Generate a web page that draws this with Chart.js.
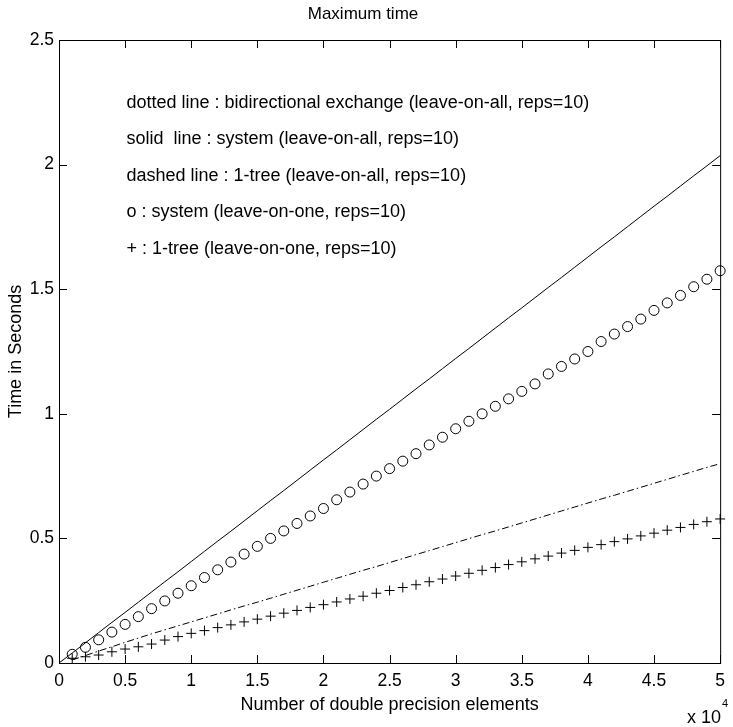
<!DOCTYPE html>
<html>
<head>
<meta charset="utf-8">
<script src="https://cdn.jsdelivr.net/npm/chart.js@4.4.1/dist/chart.umd.min.js"></script>
<style>
  html, body { margin: 0; padding: 0; background: #fff; }
  #wrap { width: 733px; height: 727px; }
</style>
</head>
<body>
<div id="wrap"><canvas id="myChart" width="733" height="727"></canvas></div>
<script>
// problem sizes (number of double precision elements)
const sizes = [1000, 2000, 3000, 4000, 5000, 6000, 7000, 8000, 9000, 10000,
  11000, 12000, 13000, 14000, 15000, 16000, 17000, 18000, 19000, 20000,
  21000, 22000, 23000, 24000, 25000, 26000, 27000, 28000, 29000, 30000,
  31000, 32000, 33000, 34000, 35000, 36000, 37000, 38000, 39000, 40000,
  41000, 42000, 43000, 44000, 45000, 46000, 47000, 48000, 49000, 50000];
const solidSizes = [0].concat(sizes);

// solid line : system (leave-on-all)
const systemAll = [0, 0.04, 0.081, 0.122, 0.163, 0.203, 0.244, 0.285, 0.326, 0.366, 0.407,
  0.448, 0.489, 0.529, 0.57, 0.611, 0.652, 0.692, 0.733, 0.774, 0.815,
  0.855, 0.896, 0.937, 0.978, 1.018, 1.059, 1.1, 1.14, 1.181, 1.222,
  1.262, 1.303, 1.344, 1.385, 1.425, 1.466, 1.507, 1.547, 1.588, 1.629,
  1.67, 1.71, 1.751, 1.792, 1.833, 1.873, 1.914, 1.955, 1.995, 2.036];

// dashed line : 1-tree (leave-on-all)
const treeAll = [0.012, 0.03, 0.048, 0.065, 0.083, 0.1, 0.117, 0.133, 0.149, 0.165,
  0.181, 0.197, 0.213, 0.229, 0.244, 0.26, 0.276, 0.292, 0.308, 0.324,
  0.34, 0.356, 0.372, 0.387, 0.403, 0.419, 0.435, 0.451, 0.467, 0.483,
  0.499, 0.515, 0.53, 0.546, 0.562, 0.578, 0.594, 0.61, 0.626, 0.642,
  0.658, 0.673, 0.689, 0.705, 0.721, 0.737, 0.753, 0.769, 0.785, 0.8];

// o : system (leave-on-one)
const systemOne = [0.035, 0.063, 0.093, 0.124, 0.155, 0.186, 0.218, 0.249, 0.28, 0.31,
  0.343, 0.374, 0.405, 0.437, 0.468, 0.5, 0.53, 0.56, 0.59, 0.62,
  0.655, 0.686, 0.718, 0.75, 0.78, 0.81, 0.84, 0.875, 0.906, 0.94,
  0.97, 1.0, 1.03, 1.06, 1.09, 1.12, 1.16, 1.19, 1.22, 1.25,
  1.29, 1.32, 1.35, 1.38, 1.415, 1.445, 1.475, 1.51, 1.54, 1.574];

// + : 1-tree (leave-on-one)
const treeOne = [0.019, 0.025, 0.032, 0.045, 0.056, 0.065, 0.076, 0.092, 0.106, 0.119,
  0.13, 0.142, 0.153, 0.165, 0.176, 0.188, 0.2, 0.211, 0.223, 0.234,
  0.245, 0.257, 0.268, 0.28, 0.291, 0.303, 0.314, 0.326, 0.337, 0.349,
  0.36, 0.372, 0.383, 0.395, 0.406, 0.418, 0.429, 0.441, 0.452, 0.464,
  0.475, 0.487, 0.498, 0.51, 0.521, 0.533, 0.544, 0.556, 0.567, 0.578];

const notes = [
  "dotted line : bidirectional exchange (leave-on-all, reps=10)",
  "solid  line : system (leave-on-all, reps=10)",
  "dashed line : 1-tree (leave-on-all, reps=10)",
  "o : system (leave-on-one, reps=10)",
  "+ : 1-tree (leave-on-one, reps=10)"
];

function pts(xs, ys) {
  return xs.map((v, i) => ({ x: v, y: ys[i] }));
}

const FONT = '"Liberation Sans", Arial, Helvetica, sans-serif';

// box, inward ticks, notes and exponent label
const frame = {
  id: "frame",
  afterDatasetsDraw(chart) {
    const { ctx, chartArea: a, scales: { x, y } } = chart;
    ctx.save();
    ctx.strokeStyle = "#000";
    ctx.lineWidth = 1;
    ctx.strokeRect(a.left + 0.5, a.top + 0.5, a.right - a.left, a.bottom - a.top);
    ctx.beginPath();
    x.ticks.forEach(t => {
      const px = Math.round(x.getPixelForValue(t.value)) + 0.5;
      ctx.moveTo(px, a.bottom); ctx.lineTo(px, a.bottom - 8);
      ctx.moveTo(px, a.top); ctx.lineTo(px, a.top + 8);
    });
    y.ticks.forEach(t => {
      const py = Math.round(y.getPixelForValue(t.value)) + 0.5;
      ctx.moveTo(a.left, py); ctx.lineTo(a.left + 8, py);
      ctx.moveTo(a.right, py); ctx.lineTo(a.right - 8, py);
    });
    ctx.stroke();

    ctx.fillStyle = "#000";
    ctx.font = "18px " + FONT;
    ctx.textBaseline = "middle";
    ctx.textAlign = "left";
    const noteY = [2.249, 2.104, 1.956, 1.81, 1.663];
    notes.forEach((s, i) => {
      ctx.fillText(s, x.getPixelForValue(5100), y.getPixelForValue(noteY[i]));
    });

    ctx.font = "18px " + FONT;
    ctx.textBaseline = "alphabetic";
    ctx.fillText("x 10", 687, 723);
    ctx.font = "11px " + FONT;
    ctx.fillText("4", 722, 707);
    ctx.restore();
  }
};

var ctx = document.getElementById("myChart");
var myChart = new Chart(ctx, {
  type: "scatter",
  data: {
    datasets: [
      {
        label: "system (leave-on-all, reps=10)",
        data: pts(solidSizes, systemAll),
        showLine: true,
        borderColor: "#000",
        borderWidth: 1,
        pointRadius: 0,
      },
      {
        label: "1-tree (leave-on-all, reps=10)",
        data: pts(sizes, treeAll),
        showLine: true,
        borderColor: "#000",
        borderWidth: 1,
        borderDash: [7, 3, 1.5, 3],
        pointRadius: 0,
      },
      {
        label: "system (leave-on-one, reps=10)",
        data: pts(sizes, systemOne),
        showLine: false,
        pointStyle: "circle",
        pointRadius: 5,
        borderColor: "#000",
        backgroundColor: "rgba(0,0,0,0)",
        borderWidth: 1,
        clip: 10,
      },
      {
        label: "1-tree (leave-on-one, reps=10)",
        data: pts(sizes, treeOne),
        showLine: false,
        pointStyle: "cross",
        pointRadius: 5,
        borderColor: "#000",
        borderWidth: 1,
        clip: 10,
      },
    ],
  },
  options: {
    responsive: false,
    animation: false,
    layout: { padding: { left: 0, right: 7, top: 0, bottom: 0 } },
    plugins: {
      legend: { display: false },
      tooltip: { enabled: false },
      title: {
        display: true,
        text: "Maximum time",
        color: "#000",
        font: { family: FONT, size: 17, weight: "normal" },
        padding: { top: 4, bottom: 15.6 },
      },
    },
    scales: {
      x: {
        type: "linear",
        min: 0,
        max: 50000,
        grid: { display: false, drawTicks: false },
        border: { display: false },
        ticks: {
          stepSize: 5000,
          color: "#000",
          padding: 8,
          font: { family: FONT, size: 17.5 },
          maxRotation: 0,
          callback: v => v / 10000,
        },
        title: {
          display: true,
          text: "Number of double precision elements",
          color: "#000",
          font: { family: FONT, size: 18 },
          padding: { top: 0, bottom: 11 },
        },
        afterFit: s => { s.height = 64; },
      },
      y: {
        min: 0,
        max: 2.5,
        grid: { display: false, drawTicks: false },
        border: { display: false },
        ticks: {
          stepSize: 0.5,
          color: "#000",
          padding: 5,
          font: { family: FONT, size: 17.5 },
          callback: v => v,
        },
        title: {
          display: true,
          text: "Time in Seconds",
          color: "#000",
          font: { family: FONT, size: 18 },
          padding: { top: 5, bottom: 0 },
        },
        afterFit: s => { s.width = 59; },
      },
    },
  },
  plugins: [frame],
});
</script>
</body>
</html>
